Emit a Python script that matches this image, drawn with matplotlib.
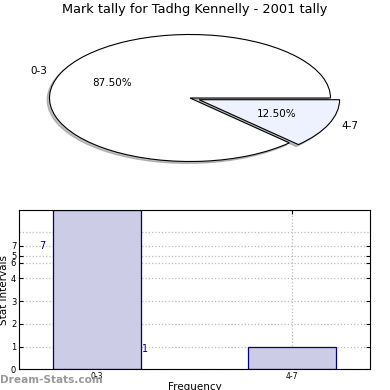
import matplotlib.pyplot as plt

# data
categories = ['0-3', '4-7']
tally = [7, 1]
pie_colors = ['#ffffff', '#eef2ff']
ytick_pos = [0, 1, 2, 3, 4, 4.68, 5.0, 5.43]
ytick_labels = ['0', '1', '2', '3', '4', '6', '5', '7']
extra_grid = [6.03]

fig = plt.figure(figsize=(3.9, 3.9), dpi=100)

fig.text(0.5, 0.975, 'Mark tally for Tadhg Kennelly - 2001 tally',
         ha='center', va='center', fontsize=9.3)

# pie (ellipse: center 190,98 ; rx 140.5 ; ry 63.5 px)
lim = 1.25
rx, ry, cx, cy = 140.5, 63.5, 190, 98
ax1 = fig.add_axes([(cx - lim * rx) / 390, 1 - (cy + lim * ry) / 390,
                    2 * lim * rx / 390, 2 * lim * ry / 390])
wedges, texts, autotexts = ax1.pie(tally, labels=categories, colors=pie_colors,
                                   explode=[0, 0.07], startangle=0,
                                   shadow={'ox': -0.012, 'oy': -0.022, 'shade': 0.5},
                                   autopct='%.2f%%', pctdistance=0.6, labeldistance=1.1,
                                   wedgeprops=dict(edgecolor='black', linewidth=0.8),
                                   textprops=dict(fontsize=7.5))
ax1.set_aspect('auto')
ax1.set_xlim(-lim, lim)
ax1.set_ylim(-lim, lim)
ax1.axis('off')

# bar chart
ax2 = fig.add_axes([19 / 390, (390 - 369.3) / 390, 351 / 390, 159 / 390])
x = list(range(len(categories)))
ax2.bar(x, tally, width=0.45, color='#ccccE6', edgecolor='#000080', linewidth=0.9, zorder=2)
ax2.set_xlim(-0.4, 1.4)
ax2.set_ylim(0, 7)
ax2.set_xticks(x)
ax2.set_xticklabels(categories, fontsize=5.5)
ax2.set_yticks(ytick_pos)
ax2.set_yticklabels(ytick_labels, fontsize=6)
ax2.set_yticks(extra_grid, minor=True)
ax2.tick_params(axis='both', direction='in', length=3, top=True, right=True, pad=2)
ax2.tick_params(axis='y', which='minor', length=0)
ax2.grid(True, which='both', linestyle=':', color='#bbbbbb', linewidth=0.9, zorder=0)
ax2.set_axisbelow(True)
ax2.set_ylabel('Stat Intervals', fontsize=7.5, labelpad=1)
ax2.set_xlabel('Frequency', fontsize=7.5, labelpad=1)

ax2.text(-0.28, 5.45, '7', color='#000080', fontsize=7, ha='center', va='center')
ax2.text(0.245, 0.9, '1', color='#000080', fontsize=7, ha='center', va='center')

fig.text(0.0, 0.025, 'Dream-Stats.com', color='#999999', fontsize=7.6,
         fontweight='bold', ha='left', va='center')

fig.savefig('out.png', dpi=100)
